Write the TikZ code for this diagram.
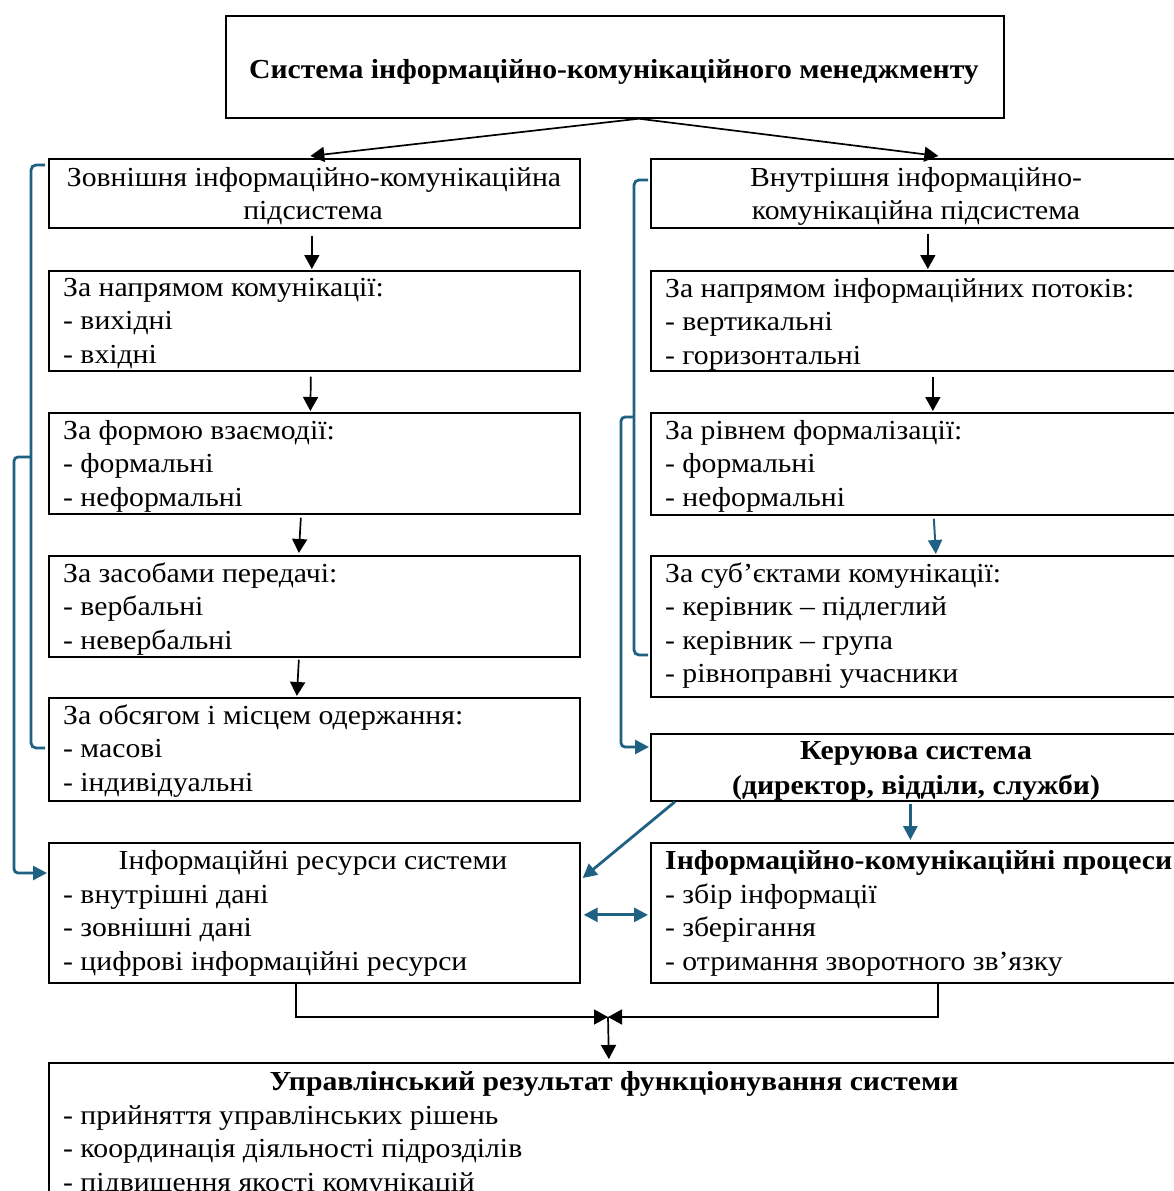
\documentclass[tikz,border=0pt]{standalone}
\usepackage{fontspec}
\setmainfont{Liberation Serif}[FakeStretch=1.08]
\usetikzlibrary{arrows.meta,calc}
\definecolor{bl}{RGB}{31,97,130}
\newcommand\fs{\fontsize{27.5}{33.5}\selectfont}
\begin{document}
\begin{tikzpicture}[x=1pt,y=-1pt,
  box/.style={draw, line width=1.7pt, anchor=north west, inner sep=0, minimum width=531pt},
  arr/.style={line width=1.7pt, -{Triangle[length=14pt,width=15pt]}},
  barr/.style={draw=bl, line width=2.8pt, -{Triangle[length=14pt,width=14pt]}},
  dbarr/.style={draw=bl, line width=2.8pt, {Triangle[length=14pt,width=14pt]}-{Triangle[length=14pt,width=14pt]}},
  bline/.style={draw=bl, line width=2.8pt, rounded corners=5pt},
  lst/.style={anchor=base west, inner sep=0, font=\fs},
  ctr/.style={anchor=base, inner sep=0, font=\fs},
  bctr/.style={anchor=base, inner sep=0, font=\fs\bfseries},
]
\useasboundingbox (0,0) rectangle (1174,1191);
\clip (0,0) rectangle (1174,1191);
% boxes
\node[box, minimum width=778pt, minimum height=102pt] (T) at (225,15) {};
\node[box, minimum height=69pt] (L0) at (48,158) {};
\node[box, minimum height=69pt] (R0) at (650,158) {};
\node[box, minimum height=100pt] (L1) at (48,270) {};
\node[box, minimum height=101pt] (L2) at (48,412) {};
\node[box, minimum height=101pt] (L3) at (48,555) {};
\node[box, minimum height=103pt] (L4) at (48,697) {};
\node[box, minimum height=140pt] (L5) at (48,842) {};
\node[box, minimum height=100pt] (R1) at (650,270) {};
\node[box, minimum height=102pt] (R2) at (650,412) {};
\node[box, minimum height=141pt] (R3) at (650,555) {};
\node[box, minimum height=67pt] (R4) at (650,733) {};
\node[box, minimum height=140pt] (R5) at (650,842) {};
\node[box, minimum width=1133pt, minimum height=200pt] (B) at (48,1062) {};
% texts
\node[bctr] (Tt) at (614,78) {Система інформаційно-комунікаційного менеджменту};
\node[ctr] (L0a) at (314,186) {Зовнішня інформаційно-комунікаційна};
\node[ctr] (L0b) at (313,219) {підсистема};
\node[ctr] (R0a) at (916,186) {Внутрішня інформаційно-};
\node[ctr] (R0b) at (916,219) {комунікаційна підсистема};
\node[lst] (L1t) at (63,296) {\parbox[t]{510pt}{\raggedright За напрямом комунікації:\\- вихідні\\- вхідні}};
\node[lst] (L2t) at (63,439) {\parbox[t]{510pt}{\raggedright За формою взаємодії:\\- формальні\\- неформальні}};
\node[lst] (L3t) at (63,582) {\parbox[t]{510pt}{\raggedright За засобами передачі:\\- вербальні\\- невербальні}};
\node[lst] (L4t) at (63,724) {\parbox[t]{510pt}{\raggedright За обсягом і місцем одержання:\\- масові\\- індивідуальні}};
\node[ctr] (L5a) at (313,869) {Інформаційні ресурси системи};
\node[lst] (L5t) at (63,903) {\parbox[t]{510pt}{\raggedright - внутрішні дані\\- зовнішні дані\\- цифрові інформаційні ресурси}};
\node[lst] (R1t) at (665,297) {\parbox[t]{510pt}{\raggedright За напрямом інформаційних потоків:\\- вертикальні\\- горизонтальні}};
\node[lst] (R2t) at (665,439) {\parbox[t]{510pt}{\raggedright За рівнем формалізації:\\- формальні\\- неформальні}};
\node[lst] (R3t) at (665,582) {\parbox[t]{510pt}{\raggedright За суб’єктами комунікації:\\- керівник – підлеглий\\- керівник – група\\- рівноправні учасники}};
\node[bctr] (R4a) at (916,759) {Керуюва система};
\node[bctr] (R4b) at (916,794) {(директор, відділи, служби)};
\node[lst, font=\fs\bfseries] (R5a) at (665,869) {Інформаційно-комунікаційні процеси};
\node[lst] (R5t) at (665,903) {\parbox[t]{510pt}{\raggedright - збір інформації\\- зберігання\\- отримання зворотного зв’язку}};
\node[bctr] (Ba) at (614,1090) {Управлінський результат функціонування системи};
\node[lst] (Bt) at (63,1124) {\parbox[t]{1000pt}{\raggedright - прийняття управлінських рішень\\- координація діяльності підрозділів\\- підвищення якості комунікацій}};
% black arrows
\draw[arr] ($(T.south)+(24,0)$) -- ($(L0.north)+(-4,-2)$);
\draw[arr] ($(T.south)+(24,0)$) -- ($(R0.north)+(22,-2)$);
\draw[arr] ($(L0.south)+(-2.5,7)$) -- ($(L1.north)+(-2.5,-1)$);
\draw[arr] ($(L1.south)+(-3.5,5)$) -- ($(L2.north)+(-4,-1)$);
\draw[arr] ($(L2.south)+(-13.5,3)$) -- ($(L3.north)+(-15.5,-2)$);
\draw[arr] ($(L3.south)+(-15.5,2)$) -- ($(L4.north)+(-17.5,-1)$);
\draw[arr] ($(R0.south)+(11.5,5)$) -- ($(R1.north)+(11.5,-1)$);
\draw[arr] ($(R1.south)+(16.5,5)$) -- ($(R2.north)+(16.5,-1)$);
\draw[barr, line width=2pt] ($(R2.south)+(17.5,3)$) -- ($(R3.north)+(19.5,-1)$);
% blue brackets
\draw[bline] ($(L0.north west)+(-3,7)$) -- (31,165) -- (31,748) -- ($(L4.north west)+(-3,51)$);
\draw[barr, rounded corners=4pt] (31,457) -- (14,457) -- (14,873) -- ($(L5.north west)+(-1,31)$);
\draw[bline] ($(R0.north west)+(-2,22)$) -- (634,180) -- (634,655) -- ($(R3.north west)+(-2,100)$);
\draw[barr, rounded corners=4pt] (634,417) -- (621,417) -- (621,747) -- ($(R4.north west)+(-1,14)$);
% blue connectors
\draw[barr] ($(R4.south west)+(25,0)$) -- ($(L5.north east)+(2,36)$);
\draw[barr] ($(R4.south)+(-6,2)$) -- ($(R5.north)+(-6,-2)$);
\draw[dbarr] ($(L5.east)+(3,2)$) -- ($(R5.west)+(-2,2)$);
% merge
\coordinate (M) at (608,1017);
\draw[arr] ($(L5.south)+(-18.5,0)$) |- (M);
\draw[arr] ($(R5.south)+(21.5,0)$) |- (M);
\draw[arr] (M) -- ($(B.north)+(-6.5,-3)$);
\end{tikzpicture}
\end{document}
